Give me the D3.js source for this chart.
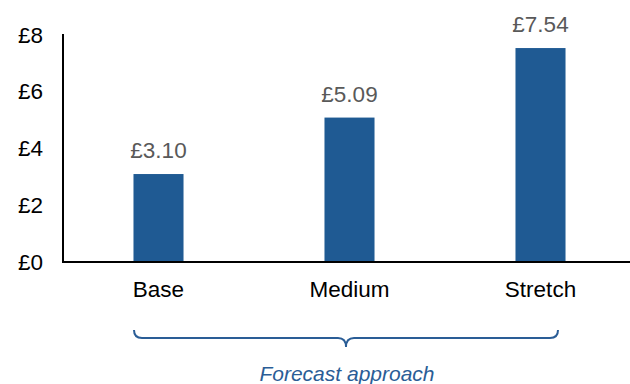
<!DOCTYPE html>
<html>
<head>
<meta charset="utf-8">
<script src="https://cdn.jsdelivr.net/npm/d3@7"></script>
<style>
  html, body { margin: 0; padding: 0; background: #ffffff; }
  svg { display: block; font-family: "Liberation Sans", Arial, sans-serif; }
</style>
</head>
<body>
<svg id="chart" width="630" height="384"></svg>
<script>
// Forecast scenarios and their values (£)
const categories = ["Base", "Medium", "Stretch"];
const values = [3.10, 5.09, 7.54];
const yTicks = [0, 2, 4, 6, 8];
const groupLabel = "Forecast approach";

const W = 630, H = 384;
const axisX = 63, baseY = 262, topY = 35;
const FS = 22.5;

const svg = d3.select("#chart");

const x = d3.scaleBand()
  .domain(categories)
  .range([axisX, 636])
  .paddingInner(0.738)
  .paddingOuter(0.369);

const y = d3.scaleLinear()
  .domain([0, 8])
  .range([baseY, topY]);

const fmt = v => "£" + v.toFixed(2);

// bars
svg.append("g").selectAll("rect")
  .data(categories)
  .join("rect")
  .attr("x", d => x(d))
  .attr("y", (d, i) => y(values[i]))
  .attr("width", x.bandwidth())
  .attr("height", (d, i) => y(0) - y(values[i]))
  .attr("fill", "#1f5a93");

// value labels
svg.append("g").selectAll("text")
  .data(categories)
  .join("text")
  .attr("x", d => x(d) + x.bandwidth() / 2)
  .attr("y", (d, i) => y(values[i]) - 16)
  .attr("text-anchor", "middle")
  .attr("font-size", FS)
  .attr("fill", "#595959")
  .text((d, i) => fmt(values[i]));

// y axis: line plus £ tick labels
const yAxis = d3.axisLeft(y)
  .tickValues(yTicks)
  .tickSize(0)
  .tickPadding(20)
  .tickFormat(d => "£" + d);

const gy = svg.append("g")
  .attr("transform", `translate(${axisX},0)`)
  .call(yAxis)
  .attr("font-family", null)
  .attr("font-size", null);
gy.select(".domain").remove();
gy.selectAll("text")
  .attr("font-size", FS)
  .attr("fill", "#000000");

svg.append("line")
  .attr("x1", axisX).attr("x2", axisX)
  .attr("y1", y(8) - 1).attr("y2", baseY)
  .attr("stroke", "#000000").attr("stroke-width", 2);

// x axis baseline and category labels
svg.append("line")
  .attr("x1", axisX - 1).attr("x2", W)
  .attr("y1", baseY).attr("y2", baseY)
  .attr("stroke", "#000000").attr("stroke-width", 2);

svg.append("g").selectAll("text")
  .data(categories)
  .join("text")
  .attr("x", d => x(d) + x.bandwidth() / 2)
  .attr("y", baseY + 35)
  .attr("text-anchor", "middle")
  .attr("font-size", FS)
  .attr("fill", "#000000")
  .text(d => d);

// grouping brace under the categories
const bx0 = 134, bx1 = 558, by = 338, r = 8;
const bmid = (bx0 + bx1) / 2;
const brace = d3.path();
brace.moveTo(bx0, by - r);
brace.quadraticCurveTo(bx0, by, bx0 + r, by);
brace.lineTo(bmid - r, by);
brace.quadraticCurveTo(bmid, by, bmid, by + r + 1);
brace.quadraticCurveTo(bmid, by, bmid + r, by);
brace.lineTo(bx1 - r, by);
brace.quadraticCurveTo(bx1, by, bx1, by - r);

svg.append("path")
  .attr("d", brace.toString())
  .attr("fill", "none")
  .attr("stroke", "#2a5d96")
  .attr("stroke-width", 2);

svg.append("text")
  .attr("x", bmid + 1)
  .attr("y", 381)
  .attr("text-anchor", "middle")
  .attr("font-size", 21)
  .attr("font-style", "italic")
  .attr("fill", "#2a5d96")
  .text(groupLabel);
</script>
</body>
</html>
